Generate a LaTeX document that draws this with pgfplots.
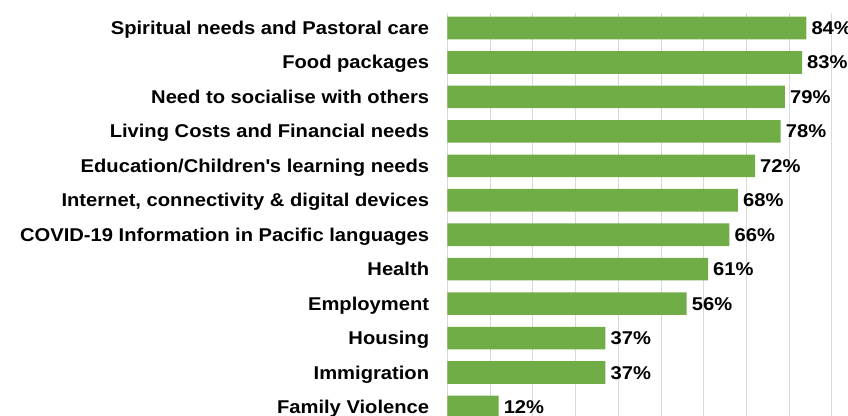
\documentclass[border=0pt]{standalone}
\usepackage{pgfplots}
\pgfplotsset{compat=1.18}
\usepackage{fontspec}
\setmainfont{Liberation Sans}[FakeStretch=1.09]
\definecolor{bargreen}{HTML}{70AD47}
\definecolor{gridgray}{HTML}{D9D9D9}
\newcommand\lf{\fontsize{18.5bp}{22bp}\selectfont\bfseries}
\begin{document}
\begin{tikzpicture}
\begin{axis}[
  at={(447.3bp,-13.3bp)}, anchor=north west,
  xbar, bar width=22.6bp,
  x=4.274bp, y=34.45bp,
  xmin=0, xmax=100,
  ymin=-0.427, ymax=11.573,
  y dir=reverse,
  axis line style={draw=none},
  xtick={0,10,...,100}, xticklabels={},
  xmajorgrids, grid style={gridgray, line width=1bp},
  major tick length=0pt,
  ytick={0,...,11},
  yticklabels={Spiritual needs and Pastoral care, Food packages, Need to socialise with others, Living Costs and Financial needs, Education/Children\textquotesingle s learning needs, {Internet, connectivity \& digital devices}, COVID-19 Information in Pacific languages, Health, Employment, Housing, Immigration, Family Violence},
  yticklabel style={font=\lf, anchor=base east, inner sep=0pt, xshift=-18bp, yshift=-6.5bp},
  /pgf/number format/assume math mode=true,
  point meta=x,
  nodes near coords={\pgfmathprintnumber{\pgfplotspointmeta}\%},
  nodes near coords style={font=\lf, anchor=base west, inner sep=0pt, xshift=5bp, yshift=-6.5bp},
  clip=false,
]
\addplot[fill=bargreen, draw=none] coordinates {
  (84,0) (83,1) (79,2) (78,3) (72,4) (68,5) (66,6) (61,7) (56,8) (37,9) (37,10) (12,11)
};
\end{axis}
\pgfresetboundingbox
\path[use as bounding box] (0,0) rectangle (848bp,-416bp);
\end{tikzpicture}
\end{document}
